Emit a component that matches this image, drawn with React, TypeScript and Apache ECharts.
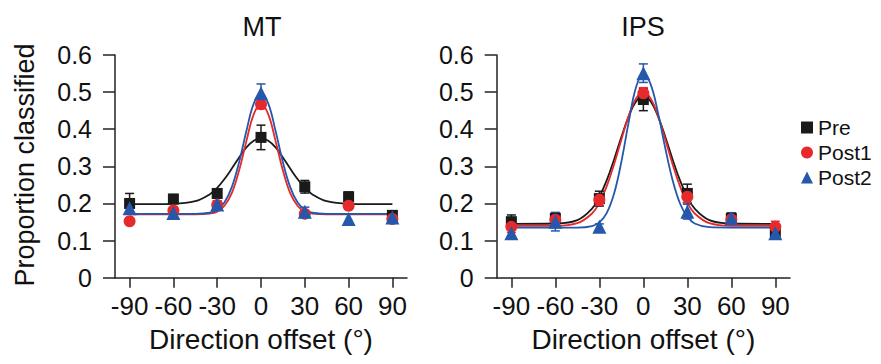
import React, { useEffect, useRef } from 'react';
import * as echarts from 'echarts';

const FONT = '"Liberation Sans", Arial, Helvetica, sans-serif';

// Tick labels / categories
const xTicks = [-90, -60, -30, 0, 30, 60, 90];
const groups = ['Pre', 'Post1', 'Post2'];
const panelTitles = ['MT', 'IPS'];

// Measured means (proportion classified)
const mtPre = [0.2, 0.212, 0.227, 0.378, 0.245, 0.218, 0.168];
const mtPost1 = [0.152, 0.181, 0.196, 0.467, 0.172, 0.194, 0.158];
const mtPost2 = [0.187, 0.174, 0.197, 0.497, 0.178, 0.158, 0.162];
const ipsPre = [0.151, 0.16, 0.213, 0.48, 0.227, 0.16, 0.124];
const ipsPost1 = [0.137, 0.156, 0.21, 0.497, 0.218, 0.157, 0.137];
const ipsPost2 = [0.12, 0.151, 0.137, 0.551, 0.178, 0.16, 0.12];

// Error bar half-lengths
const mtPreErr = [0.027, 0.012, 0.012, 0.033, 0.017, 0.013, 0.012];
const mtPost1Err = [0.008, 0.01, 0.01, 0.012, 0.01, 0.01, 0.01];
const mtPost2Err = [0.015, 0.012, 0.01, 0.025, 0.012, 0.013, 0.01];
const ipsPreErr = [0.018, 0.013, 0.02, 0.03, 0.025, 0.015, 0.015];
const ipsPost1Err = [0.015, 0.012, 0.015, 0.015, 0.015, 0.012, 0.015];
const ipsPost2Err = [0.012, 0.025, 0.008, 0.025, 0.02, 0.015, 0.012];

// Fitted curves at these offsets
const curveX = [-90, -60, -45, -35, -30, -25, -20, -15, -10, -5, 0, 5, 10, 15, 20, 25, 30, 35, 45, 60, 90];
const mtPreFit = [0.198, 0.199, 0.206, 0.225, 0.242, 0.266, 0.294, 0.324, 0.351, 0.369, 0.376, 0.369, 0.351, 0.324, 0.294, 0.266, 0.242, 0.225, 0.206, 0.199, 0.198];
const mtPost1Fit = [0.171, 0.171, 0.171, 0.173, 0.178, 0.194, 0.228, 0.289, 0.368, 0.44, 0.469, 0.44, 0.368, 0.289, 0.228, 0.194, 0.178, 0.173, 0.171, 0.171, 0.171];
const mtPost2Fit = [0.172, 0.172, 0.172, 0.175, 0.183, 0.203, 0.244, 0.311, 0.395, 0.469, 0.498, 0.469, 0.395, 0.311, 0.244, 0.203, 0.183, 0.175, 0.172, 0.172, 0.172];
const ipsPreFit = [0.145, 0.146, 0.155, 0.186, 0.218, 0.262, 0.318, 0.379, 0.435, 0.475, 0.49, 0.475, 0.435, 0.379, 0.318, 0.262, 0.218, 0.186, 0.155, 0.146, 0.145];
const ipsPost1Fit = [0.14, 0.14, 0.147, 0.173, 0.202, 0.246, 0.305, 0.372, 0.436, 0.483, 0.5, 0.483, 0.436, 0.372, 0.305, 0.246, 0.202, 0.173, 0.147, 0.14, 0.14];
const ipsPost2Fit = [0.135, 0.135, 0.135, 0.139, 0.149, 0.174, 0.226, 0.312, 0.419, 0.513, 0.55, 0.521, 0.444, 0.348, 0.262, 0.2, 0.164, 0.146, 0.136, 0.135, 0.135];

const panels = [
  { means: [mtPre, mtPost1, mtPost2], errs: [mtPreErr, mtPost1Err, mtPost2Err], fits: [mtPreFit, mtPost1Fit, mtPost2Fit] },
  { means: [ipsPre, ipsPost1, ipsPost2], errs: [ipsPreErr, ipsPost1Err, ipsPost2Err], fits: [ipsPreFit, ipsPost1Fit, ipsPost2Fit] },
];

const colors = ['#1a1a1a', '#e62a2c', '#2557ab'];
const symbols = ['rect', 'circle', 'triangle'];
const symbolSizes = [11, 12, 14];
const AXIS = '#222';
const TEXT = '#111';

const gridBoxes = [
  { left: 115, top: 55, width: 292, height: 222.7 },
  { left: 496.7, top: 55, width: 293.3, height: 222.7 },
];

function buildOption() {
  const xAxis: any[] = [];
  const yAxis: any[] = [];
  const series: any[] = [];
  panels.forEach((p, pi) => {
    xAxis.push({
      type: 'value', gridIndex: pi, min: -100, max: 100,
      name: 'Direction offset (°)', nameLocation: 'middle', nameGap: 48,
      nameTextStyle: { fontSize: 28, color: TEXT, fontFamily: FONT },
      axisLine: { show: true, onZero: false, lineStyle: { color: AXIS, width: 1.5 } },
      axisTick: { show: true, length: 10, customValues: xTicks, lineStyle: { color: AXIS, width: 1.5 } },
      axisLabel: { customValues: xTicks, fontSize: 26, color: TEXT, fontFamily: FONT, margin: 15 },
      splitLine: { show: false },
    });
    yAxis.push({
      type: 'value', gridIndex: pi, min: 0, max: 0.6, interval: 0.1,
      axisLine: { show: true, onZero: false, lineStyle: { color: AXIS, width: 1.5 } },
      axisTick: { show: true, length: 12, lineStyle: { color: AXIS, width: 1.5 } },
      axisLabel: { fontSize: 25, color: TEXT, fontFamily: FONT, margin: 23, formatter: (v: number) => String(+v.toFixed(1)) },
      splitLine: { show: false },
    });
    p.fits.forEach((fit, gi) => {
      series.push({
        type: 'line', name: groups[gi] + ' fit', xAxisIndex: pi, yAxisIndex: pi,
        data: curveX.map((x, i) => [x, fit[i]]), smooth: 0.4, symbol: 'none', showSymbol: false,
        lineStyle: { color: colors[gi], width: 1.8 }, z: 2 + gi * 0.1, silent: true,
      });
    });
    p.means.forEach((vals, gi) => {
      const err = p.errs[gi];
      series.push({
        type: 'custom', name: groups[gi] + ' err', xAxisIndex: pi, yAxisIndex: pi,
        data: xTicks.map((x, i) => [x, vals[i], err[i]]),
        encode: { x: 0, y: 1 }, z: 3, silent: true,
        renderItem: (params: any, api: any) => {
          const x = api.value(0), y = api.value(1), e = api.value(2);
          const top = api.coord([x, y + e]);
          const bot = api.coord([x, y - e]);
          const hw = 4.5;
          const st = { stroke: colors[gi], lineWidth: 1.5 };
          return {
            type: 'group',
            children: [
              { type: 'line', shape: { x1: top[0], y1: top[1], x2: bot[0], y2: bot[1] }, style: st },
              { type: 'line', shape: { x1: top[0] - hw, y1: top[1], x2: top[0] + hw, y2: top[1] }, style: st },
              { type: 'line', shape: { x1: bot[0] - hw, y1: bot[1], x2: bot[0] + hw, y2: bot[1] }, style: st },
            ],
          };
        },
      });
    });
    p.means.forEach((vals, gi) => {
      series.push({
        type: 'scatter', name: groups[gi], xAxisIndex: pi, yAxisIndex: pi,
        data: xTicks.map((x, i) => [x, vals[i]]),
        symbol: symbols[gi], symbolSize: symbolSizes[gi],
        itemStyle: { color: colors[gi], opacity: 1 }, z: 4, silent: true,
      });
    });
  });

  return {
    animation: false,
    backgroundColor: '#ffffff',
    grid: gridBoxes.map((g) => ({ ...g, containLabel: false })),
    xAxis, yAxis, series,
    legend: {
      orient: 'vertical', left: 801, top: 117, padding: 0,
      itemWidth: 12, itemHeight: 12, itemGap: 4,
      selectedMode: false,
      itemStyle: { opacity: 1 },
      textStyle: { fontSize: 21, color: TEXT, fontFamily: FONT },
      data: groups.map((g, i) => ({ name: g, icon: symbols[i] })),
    },
    graphic: [
      { type: 'text', x: 262, y: 27, style: { text: panelTitles[0], fontSize: 27, fill: TEXT, fontFamily: FONT, textAlign: 'center', textVerticalAlign: 'middle' } },
      { type: 'text', x: 643, y: 27, style: { text: panelTitles[1], fontSize: 27, fill: TEXT, fontFamily: FONT, textAlign: 'center', textVerticalAlign: 'middle' } },
      { type: 'text', x: 25, y: 165, rotation: Math.PI / 2, style: { text: 'Proportion classified', fontSize: 27, fill: TEXT, fontFamily: FONT, textAlign: 'center', textVerticalAlign: 'middle' } },
    ],
  };
}

export default function App() {
  const ref = useRef<HTMLDivElement>(null);
  useEffect(() => {
    if (!ref.current) return;
    const chart = echarts.init(ref.current, null, { renderer: 'svg' });
    chart.setOption(buildOption() as any);
    return () => chart.dispose();
  }, []);
  return <div ref={ref} style={{ position: 'fixed', left: 0, top: 0, width: 881, height: 364, background: '#fff' }} />;
}
